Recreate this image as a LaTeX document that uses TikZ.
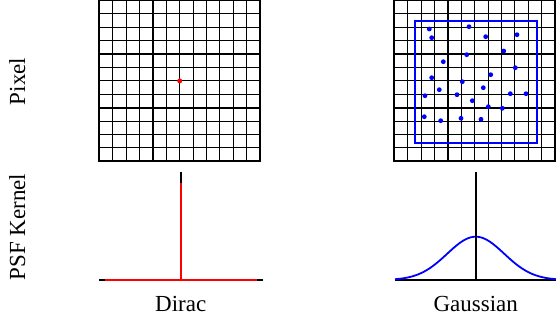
\documentclass[tikz,border=0pt]{standalone}
\usepackage{fontspec}
\setmainfont{Liberation Serif}
\usepackage{tikz}

\begin{document}
\begin{tikzpicture}[x=1pt,y=-1pt,
  etiqueta/.style={font=\fontsize{23}{27}\selectfont, inner sep=0pt, anchor=base},
  fina/.style={line width=0.9pt},
  gruesa/.style={line width=1.8pt}]

\useasboundingbox (0,0) rectangle (556,321);

% Rejillas de pixeles
\foreach \xo in {99.3,394.3}{
  \foreach \i in {1,2,3,5,6,7,9,10,11}{
    \draw[fina] (\xo+\i*13.4,0.5) -- (\xo+\i*13.4,161.3);
    \draw[fina] (\xo,0.5+\i*13.4) -- (\xo+160.8,0.5+\i*13.4);
  }
  \foreach \i in {4,8}{
    \draw[gruesa] (\xo+\i*13.4,0.5) -- (\xo+\i*13.4,161.3);
    \draw[gruesa] (\xo,0.5+\i*13.4) -- (\xo+160.8,0.5+\i*13.4);
  }
  \draw[gruesa] (\xo,0.5) rectangle ++(160.8,160.8);
}

% Pixel unico (Dirac)
\fill[red] (179.7,80.9) circle (2.5pt);

% Region y puntos (Gaussian)
\draw[blue, line width=2pt] (415,20.7) rectangle (537.3,142.7);
\foreach \p in {(429.3,29),(431.7,37.7),(469,26.7),(485.7,36.7),(517,34.7),
                (503.7,51),(466.7,54.7),(443.3,61.7),(515.3,67.7),(490.7,74.7),
                (431.7,77.7),(462.3,81.7),(439.3,89.7),(483.3,87.7),(425,95.7),
                (457,94.7),(510.3,93.7),(526,93.7),(472.3,100.7),(488.3,106.7),
                (502.3,108.3),(424.3,116.7),(440.7,120.7),(461,118.3),(481,119.3)}
  \fill[blue] \p circle (2.4pt);

% Nucleo Dirac
\draw[gruesa] (99.3,280) -- (262.7,280);
\draw[gruesa] (180.7,171.7) -- (180.7,280);
\draw[red, gruesa] (105,280) -- (256.7,280);
\draw[red, gruesa] (180.7,182.7) -- (180.7,280);

% Nucleo gaussiano
\draw[gruesa] (395,280) -- (556,280);
\draw[blue, line width=1.8pt, domain=-80.7:80.3, samples=100, smooth]
  plot ({475.7+\x}, {280-43.3*exp(-(\x)^2/1624.5)});
\draw[gruesa] (475.7,171.7) -- (475.7,280);

% Etiquetas
\node[etiqueta] (dirac) at (180.7,311.7) {Dirac};
\node[etiqueta] (gauss) at (475.7,311.7) {Gaussian};
\node[etiqueta, rotate=90] (pixel) at (25,81.5) {Pixel};
\node[etiqueta, rotate=90] (psf) at (25,227) {PSF Kernel};

\end{tikzpicture}
\end{document}
